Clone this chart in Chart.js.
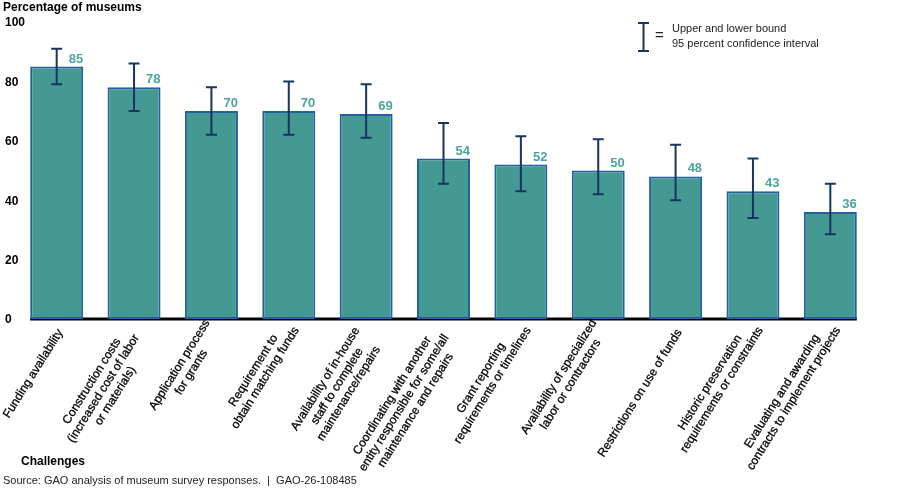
<!DOCTYPE html>
<html>
<head>
<meta charset="utf-8">
<script src="https://cdn.jsdelivr.net/npm/chart.js@4"></script>
<style>
  body { margin: 0; background: #fff; }
  #wrap { width: 900px; height: 491px; }
</style>
</head>
<body>
<div id="wrap"><canvas id="chart" width="900" height="491"></canvas></div>
<script>
// data
const categories = [
    ['Funding availability'],
    ['Construction costs', '(increased cost of labor', 'or materials)'],
    ['Application process', 'for grants'],
    ['Requirement to', 'obtain matching funds'],
    ['Availability of in-house', 'staff to complete', 'maintenance/repairs'],
    ['Coordinating with another', 'entity responsible for some/all', 'maintenance and repairs'],
    ['Grant reporting', 'requirements or timelines'],
    ['Availability of specialized', 'labor or contractors'],
    ['Restrictions on use of funds'],
    ['Historic preservation', 'requirements or constraints'],
    ['Evaluating and awarding', 'contracts to implement projects']
];
const values = [85, 78, 70, 70, 69, 54, 52, 50, 48, 43, 36];
const lowerBound = [79, 70, 62, 62, 61, 45.5, 43, 42, 40, 34, 28.5];
const upperBound = [91, 86, 78, 80, 79, 66, 61.5, 60.5, 58.7, 54, 45.5];
const yTicks = [0, 20, 40, 60, 80, 100];

const FONT = '"Liberation Sans", Arial, sans-serif';
const barFill = '#449a92';
const barBorder = '#2260a2';
const errColor = '#17355e';
const labelTeal = '#4aa59c';

// label block placement, depends on number of lines
const alongShift = { 1: -1, 2: 3, 3: -6 };
const firstLine = { 1: 5, 2: -6.8, 3: -7 };

// everything the library does not draw itself
const overlay = {
    id: 'overlay',
    beforeDatasetsDraw(chart) {
        const ctx = chart.ctx;
        const meta = chart.getDatasetMeta(0);
        const y0 = chart.scales.y.getPixelForValue(0);
        const first = meta.data[0];
        const last = meta.data[meta.data.length - 1];
        ctx.save();
        ctx.strokeStyle = '#000';
        ctx.lineWidth = 3;
        ctx.beginPath();
        ctx.moveTo(first.x - first.width / 2, y0);
        ctx.lineTo(last.x + last.width / 2, y0);
        ctx.stroke();
        ctx.restore();
    },
    afterDatasetsDraw(chart) {
        const ctx = chart.ctx;
        const y = chart.scales.y;
        const meta = chart.getDatasetMeta(0);
        ctx.save();
        // error bars
        ctx.strokeStyle = errColor;
        ctx.lineWidth = 2;
        meta.data.forEach((bar, i) => {
            const top = y.getPixelForValue(upperBound[i]);
            const bot = y.getPixelForValue(lowerBound[i]);
            ctx.beginPath();
            ctx.moveTo(bar.x, top);
            ctx.lineTo(bar.x, bot);
            ctx.moveTo(bar.x - 5.5, top);
            ctx.lineTo(bar.x + 5.5, top);
            ctx.moveTo(bar.x - 5.5, bot);
            ctx.lineTo(bar.x + 5.5, bot);
            ctx.stroke();
        });
        // value labels
        ctx.fillStyle = labelTeal;
        ctx.font = 'bold 13px ' + FONT;
        ctx.textAlign = 'right';
        ctx.textBaseline = 'alphabetic';
        meta.data.forEach((bar, i) => {
            ctx.fillText(String(values[i]), bar.x + bar.width / 2, bar.y - 4);
        });
        ctx.restore();
    },
    afterDraw(chart) {
        const ctx = chart.ctx;
        const y = chart.scales.y;
        const meta = chart.getDatasetMeta(0);
        ctx.save();

        // y axis title and tick labels
        ctx.fillStyle = '#000';
        ctx.font = 'bold 12px ' + FONT;
        ctx.textAlign = 'left';
        ctx.textBaseline = 'alphabetic';
        ctx.fillText('Percentage of museums', 3, 11);
        ctx.textBaseline = 'middle';
        yTicks.forEach(t => {
            ctx.fillText(String(t), 5, y.getPixelForValue(t) + 1);
        });

        // rotated category labels, lines centred
        const angle = 58 * Math.PI / 180;
        const lh = 13.8;
        ctx.font = '12px ' + FONT;
        ctx.fillStyle = '#000';
        ctx.strokeStyle = '#000';
        ctx.lineWidth = 0.3;
        const y0 = y.getPixelForValue(0);
        meta.data.forEach((bar, i) => {
            const lines = categories[i];
            const n = lines.length;
            const w = Math.max(...lines.map(l => ctx.measureText(l).width));
            ctx.save();
            ctx.translate(bar.x, y0 + 8);
            ctx.rotate(-angle);
            ctx.textAlign = 'center';
            ctx.textBaseline = 'middle';
            lines.forEach((l, j) => {
                const lx = alongShift[n] - w / 2;
                const ly = firstLine[n] + j * lh;
                ctx.fillText(l, lx, ly);
                ctx.strokeText(l, lx, ly);
            });
            ctx.restore();
        });

        // x axis title and source
        ctx.textAlign = 'left';
        ctx.textBaseline = 'alphabetic';
        ctx.fillStyle = '#000';
        ctx.font = 'bold 12px ' + FONT;
        ctx.fillText('Challenges', 21, 465);
        ctx.fillStyle = '#222';
        ctx.font = '11px ' + FONT;
        ctx.fillText('Source: GAO analysis of museum survey responses.  |  GAO-26-108485', 3, 484);

        // legend
        ctx.strokeStyle = errColor;
        ctx.lineWidth = 2;
        ctx.beginPath();
        ctx.moveTo(643.5, 23); ctx.lineTo(643.5, 51);
        ctx.moveTo(638, 23); ctx.lineTo(649, 23);
        ctx.moveTo(638, 51); ctx.lineTo(649, 51);
        ctx.stroke();
        ctx.fillStyle = '#222';
        ctx.font = '15px ' + FONT;
        ctx.fillText('=', 655, 40);
        ctx.font = '11px ' + FONT;
        ctx.textBaseline = 'middle';
        ctx.fillText('Upper and lower bound', 672, 29);
        ctx.fillText('95 percent confidence interval', 672, 44);

        ctx.restore();
    }
};

function initChart() {
    const ctx = document.getElementById('chart').getContext('2d');
    new Chart(ctx, {
        type: 'bar',
        data: {
            labels: categories.map(c => c.join(' ')),
            datasets: [{
                data: values,
                backgroundColor: barFill,
                borderColor: barBorder,
                borderWidth: 2,
                borderSkipped: false,
                barPercentage: 0.685,
                categoryPercentage: 1
            }]
        },
        options: {
            responsive: false,
            animation: false,
            layout: { padding: { left: 18, right: 31, top: 22, bottom: 172 } },
            plugins: {
                legend: { display: false },
                tooltip: { enabled: false }
            },
            scales: {
                x: { display: false },
                y: { display: false, min: 0, max: 100 }
            }
        },
        plugins: [overlay]
    });
}

initChart();
</script>
</body>
</html>
